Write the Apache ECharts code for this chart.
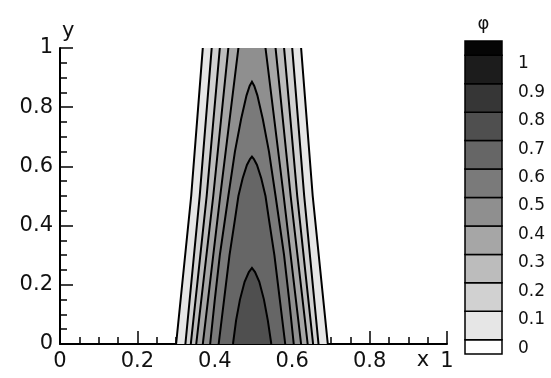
<!DOCTYPE html>
<html>
<head>
<meta charset="utf-8">
<script src="https://cdn.jsdelivr.net/npm/echarts@6/dist/echarts.min.js"></script>
<style>html,body{margin:0;padding:0;background:#fff}#c{width:551px;height:378px}</style>
</head>
<body>
<div id="c"></div>
<script>
// ---- data ----
// contour levels shown in the legend
const levels = [0, 0.1, 0.2, 0.3, 0.4, 0.5, 0.6, 0.7, 0.8, 0.9, 1];
const levelLabels = ['0', '0.1', '0.2', '0.3', '0.4', '0.5', '0.6', '0.7', '0.8', '0.9', '1'];
// legend cell boundaries (below 0 and above 1 cells included)
const legendBounds = [-0.05, 0, 0.1, 0.2, 0.3, 0.4, 0.5, 0.6, 0.7, 0.8, 0.9, 1, 1.05];
// band colours, from below-0 up to above-1
const bandColors = ['#ffffff', '#e6e6e6', '#d1d1d1', '#bcbcbc', '#a6a6a6', '#8f8f8f',
                    '#7a7a7a', '#666666', '#4f4f4f', '#363636', '#1c1c1c', '#050505'];

// contour lines phi = 0 ... 0.4 run from bottom (y=0) to top (y=1): [x, y]
const phi00Left  = [[0.300, 0], [0.339, 0.5], [0.369, 1]];
const phi00Right = [[0.692, 0], [0.653, 0.5], [0.623, 1]];
const phi01Left  = [[0.324, 0], [0.361, 0.5], [0.392, 1]];
const phi01Right = [[0.668, 0], [0.631, 0.5], [0.600, 1]];
const phi02Left  = [[0.338, 0], [0.379, 0.5], [0.413, 1]];
const phi02Right = [[0.654, 0], [0.613, 0.5], [0.579, 1]];
const phi03Left  = [[0.352, 0], [0.396, 0.5], [0.435, 1]];
const phi03Right = [[0.640, 0], [0.596, 0.5], [0.557, 1]];
const phi04Left  = [[0.369, 0], [0.414, 0.5], [0.461, 1]];
const phi04Right = [[0.623, 0], [0.578, 0.5], [0.531, 1]];
// contour lines phi = 0.5, 0.6, 0.7 are closed arches standing on y=0
const phi05Arch = [[0.388, 0], [0.400, 0.15], [0.413, 0.3], [0.435, 0.5], [0.452, 0.65],
                   [0.468, 0.76], [0.482, 0.84], [0.490, 0.872], [0.496, 0.886],
                   [0.502, 0.872], [0.510, 0.84], [0.524, 0.76], [0.540, 0.65],
                   [0.557, 0.5], [0.579, 0.3], [0.592, 0.15], [0.604, 0]];
const phi06Arch = [[0.410, 0], [0.424, 0.15], [0.438, 0.3], [0.452, 0.42], [0.461, 0.5],
                   [0.472, 0.56], [0.483, 0.605], [0.491, 0.625], [0.496, 0.633],
                   [0.501, 0.625], [0.509, 0.605], [0.520, 0.56], [0.531, 0.5],
                   [0.540, 0.42], [0.554, 0.3], [0.568, 0.15], [0.582, 0]];
const phi07Arch = [[0.447, 0], [0.455, 0.08], [0.465, 0.15], [0.477, 0.21], [0.488, 0.243],
                   [0.496, 0.257], [0.504, 0.243], [0.515, 0.21], [0.527, 0.15],
                   [0.537, 0.08], [0.546, 0]];

// ---- build ----
const contours = [
  { level: 0,   lines: [phi00Left, phi00Right], fill: phi00Left.concat(phi00Right.slice().reverse()) },
  { level: 0.1, lines: [phi01Left, phi01Right], fill: phi01Left.concat(phi01Right.slice().reverse()) },
  { level: 0.2, lines: [phi02Left, phi02Right], fill: phi02Left.concat(phi02Right.slice().reverse()) },
  { level: 0.3, lines: [phi03Left, phi03Right], fill: phi03Left.concat(phi03Right.slice().reverse()) },
  { level: 0.4, lines: [phi04Left, phi04Right], fill: phi04Left.concat(phi04Right.slice().reverse()) },
  { level: 0.5, lines: [phi05Arch], fill: phi05Arch },
  { level: 0.6, lines: [phi06Arch], fill: phi06Arch },
  { level: 0.7, lines: [phi07Arch], fill: phi07Arch }
];
contours.forEach((c, i) => { c.color = bandColors[i + 1]; });

const legendCells = [];
for (let i = 0; i < legendBounds.length - 1; i++) {
  legendCells.push([0, legendBounds[i], legendBounds[i + 1], i]);
}

const FONT = 'DejaVu Sans';
const chart = echarts.init(document.getElementById('c'), null, { renderer: 'canvas' });

chart.setOption({
  animation: false,
  backgroundColor: '#ffffff',
  grid: [
    { left: 60, top: 48, width: 387, height: 296 },
    { left: 465, top: 41, width: 37, height: 313 }
  ],
  xAxis: [
    {
      gridIndex: 0, type: 'value', min: 0, max: 1, interval: 0.2,
      name: 'x', nameLocation: 'end', nameGap: -24,
      nameTextStyle: { fontFamily: FONT, fontSize: 21, color: '#111', align: 'center', verticalAlign: 'top', padding: [6, 0, 0, 0] },
      axisLine: { show: true, onZero: false, lineStyle: { color: '#000', width: 2 } },
      axisTick: { show: true, inside: true, length: 13, lineStyle: { color: '#000', width: 1.5 } },
      minorTick: { show: true, splitNumber: 4, length: 7, lineStyle: { color: '#000', width: 1.5 } },
      splitLine: { show: false },
      axisLabel: { fontFamily: FONT, fontSize: 21, color: '#111', margin: 7 }
    },
    {
      gridIndex: 1, type: 'category', data: ['φ'], position: 'top',
      axisLine: { show: false }, axisTick: { show: false },
      axisLabel: { fontFamily: FONT, fontSize: 18, color: '#111', margin: 8 }
    }
  ],
  yAxis: [
    {
      gridIndex: 0, type: 'value', min: 0, max: 1, interval: 0.2,
      name: 'y', nameLocation: 'end', nameGap: 6,
      nameTextStyle: { fontFamily: FONT, fontSize: 21, color: '#111', align: 'left', padding: [0, 0, 0, 2] },
      axisLine: { show: true, onZero: false, lineStyle: { color: '#000', width: 2 } },
      axisTick: { show: true, inside: true, length: 13, lineStyle: { color: '#000', width: 1.5 } },
      minorTick: { show: true, splitNumber: 4, length: 7, lineStyle: { color: '#000', width: 1.5 } },
      splitLine: { show: false },
      axisLabel: { fontFamily: FONT, fontSize: 21, color: '#111', margin: 7 }
    },
    {
      gridIndex: 1, type: 'value', min: -0.05, max: 1.05, position: 'right',
      axisLine: { show: false }, axisTick: { show: false }, splitLine: { show: false },
      axisLabel: {
        fontFamily: FONT, fontSize: 17, color: '#111', margin: 16,
        customValues: levels, verticalAlign: 'top',
        formatter: v => { const k = levels.findIndex(l => Math.abs(l - v) < 1e-6); return k >= 0 ? levelLabels[k] : ''; }
      }
    }
  ],
  series: [
    {
      type: 'custom', xAxisIndex: 0, yAxisIndex: 0, silent: true, clip: true,
      data: contours.map(c => c.fill[0]),
      renderItem: (params, api) => {
        const c = contours[params.dataIndex];
        return { type: 'polygon', shape: { points: c.fill.map(p => api.coord(p)) },
                 style: { fill: c.color, stroke: null } };
      }
    },
    {
      type: 'custom', xAxisIndex: 0, yAxisIndex: 0, silent: true, clip: true, z: 3,
      data: contours.map(c => c.fill[0]),
      renderItem: (params, api) => {
        const c = contours[params.dataIndex];
        return { type: 'group', children: c.lines.map(line => ({
          type: 'polyline', shape: { points: line.map(p => api.coord(p)) },
          style: { stroke: '#000', lineWidth: 2, fill: null }
        })) };
      }
    },
    {
      type: 'custom', xAxisIndex: 1, yAxisIndex: 1, silent: true,
      data: legendCells,
      renderItem: (params, api) => {
        const lo = api.coord([0, api.value(1)]);
        const hi = api.coord([0, api.value(2)]);
        const w = api.size([1, 0])[0];
        return { type: 'rect',
                 shape: { x: lo[0] - w / 2, y: hi[1], width: w, height: lo[1] - hi[1] },
                 style: { fill: bandColors[api.value(3)], stroke: '#000', lineWidth: 1.5 } };
      }
    }
  ]
});
</script>
</body>
</html>
